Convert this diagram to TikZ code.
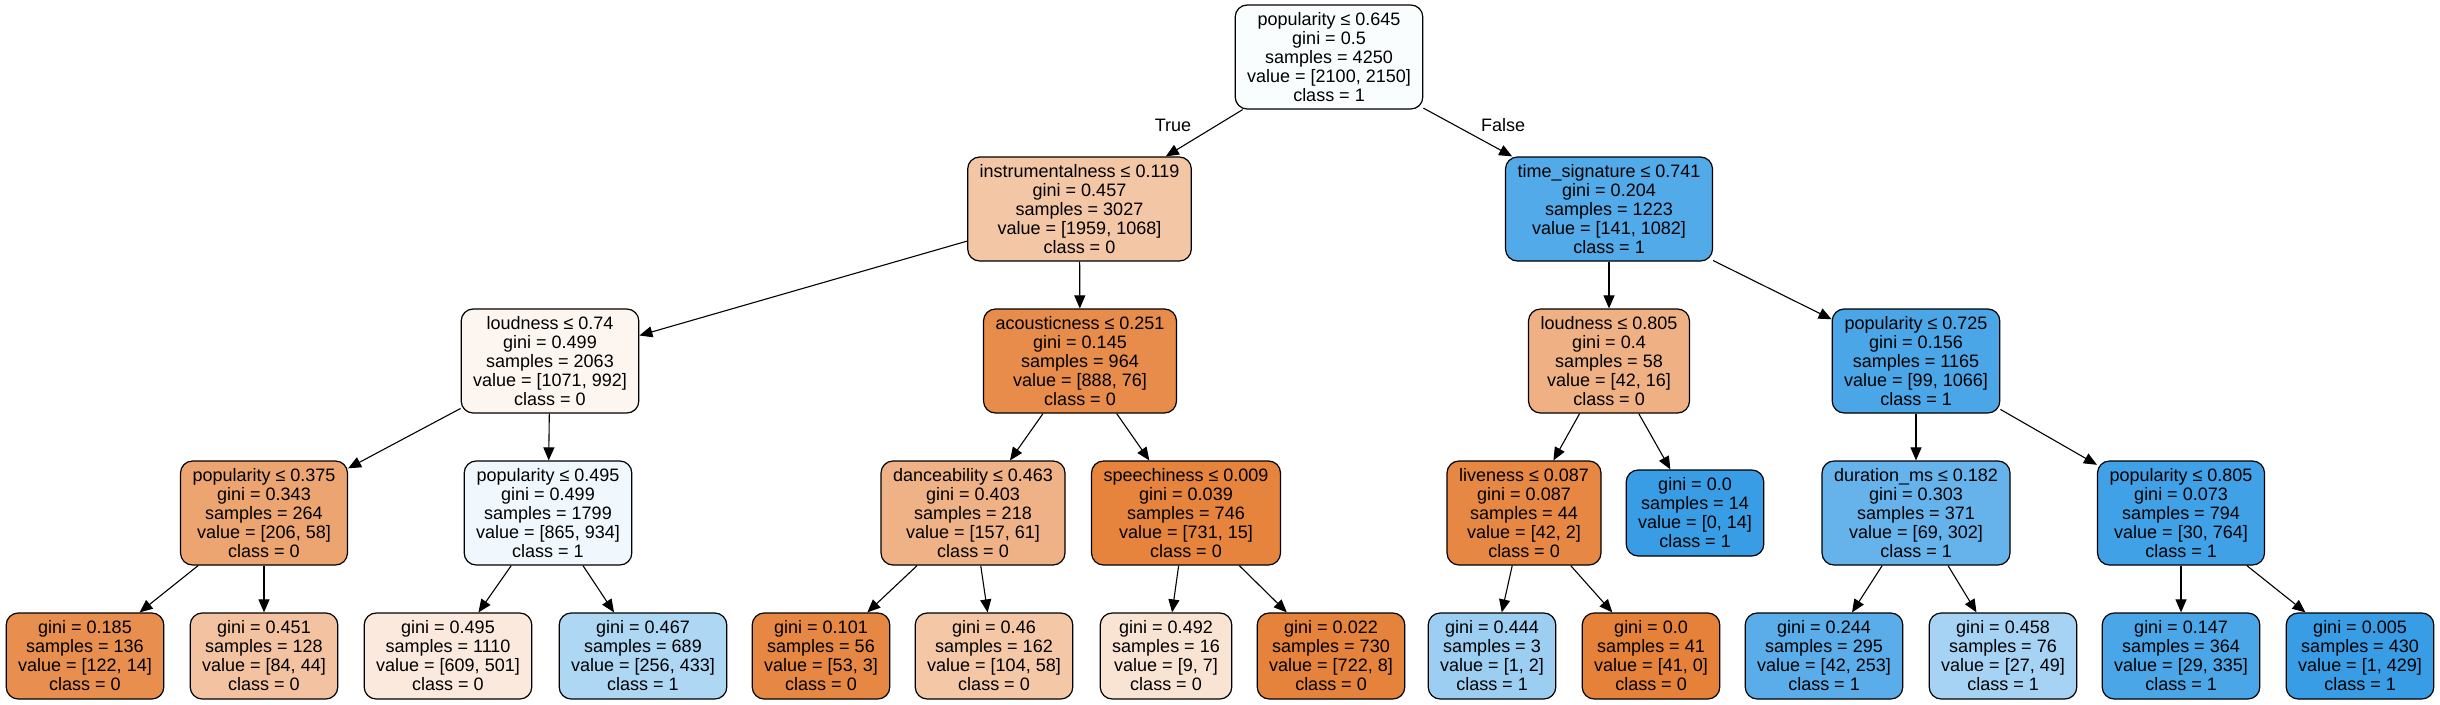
\documentclass[tikz,border=0pt]{standalone}
\usepackage{fontspec}
\setmainfont{Liberation Sans}
\usetikzlibrary{arrows.meta}
\definecolor{orng}{RGB}{229,129,57}
\definecolor{blu}{RGB}{57,157,229}
\begin{document}
\begin{tikzpicture}[x=1pt,y=-1pt,
  box/.style={draw=black, line width=1.2pt, rounded corners=12pt, align=center,
    font=\fontsize{18}{19}\selectfont, inner xsep=12pt, inner ysep=6pt},
  split/.style={box, minimum height=104pt},
  leaf/.style={box, minimum height=86pt},
  edge/.style={-{Triangle[length=13pt,width=11pt]}, line width=1.1pt},
  lbl/.style={font=\fontsize{18}{19}\selectfont}]
\useasboundingbox[fill=white] (0,0) rectangle (2440,704);
% row 0
\node[split, fill=blu!2.3!white] (n0) at (1329,57) {popularity ≤ 0.645\\gini = 0.5\\samples = 4250\\value = [2100, 2150]\\class = 1};
% row 1
\node[split, fill=orng!45.5!white] (n1) at (1079.5,209) {instrumentalness ≤ 0.119\\gini = 0.457\\samples = 3027\\value = [1959, 1068]\\class = 0};
\node[split, fill=blu!87!white] (n16) at (1609,209) {time\_signature ≤ 0.741\\gini = 0.204\\samples = 1223\\value = [141, 1082]\\class = 1};
% row 2
\node[split, fill=orng!7.4!white] (n2) at (550,361) {loudness ≤ 0.74\\gini = 0.499\\samples = 2063\\value = [1071, 992]\\class = 0};
\node[split, fill=orng!91.4!white] (n9) at (1080,361) {acousticness ≤ 0.251\\gini = 0.145\\samples = 964\\value = [888, 76]\\class = 0};
\node[split, fill=orng!61.9!white] (n17) at (1609,361) {loudness ≤ 0.805\\gini = 0.4\\samples = 58\\value = [42, 16]\\class = 0};
\node[split, fill=blu!90.7!white] (n22) at (1916,361) {popularity ≤ 0.725\\gini = 0.156\\samples = 1165\\value = [99, 1066]\\class = 1};
% row 3
\node[split, fill=orng!71.8!white] (n3) at (264,513) {popularity ≤ 0.375\\gini = 0.343\\samples = 264\\value = [206, 58]\\class = 0};
\node[split, fill=blu!7.4!white] (n6) at (548,513) {popularity ≤ 0.495\\gini = 0.499\\samples = 1799\\value = [865, 934]\\class = 1};
\node[split, fill=orng!61.1!white] (n10) at (973,513) {danceability ≤ 0.463\\gini = 0.403\\samples = 218\\value = [157, 61]\\class = 0};
\node[split, fill=orng!98!white] (n13) at (1186,513) {speechiness ≤ 0.009\\gini = 0.039\\samples = 746\\value = [731, 15]\\class = 0};
\node[split, fill=orng!95.2!white] (n18) at (1524,513) {liveness ≤ 0.087\\gini = 0.087\\samples = 44\\value = [42, 2]\\class = 0};
\node[leaf, fill=blu!100!white] (n21) at (1695,513) {gini = 0.0\\samples = 14\\value = [0, 14]\\class = 1};
\node[split, fill=blu!77.2!white] (n23) at (1916,513) {duration\_ms ≤ 0.182\\gini = 0.303\\samples = 371\\value = [69, 302]\\class = 1};
\node[split, fill=blu!96.1!white] (n26) at (2181,513) {popularity ≤ 0.805\\gini = 0.073\\samples = 794\\value = [30, 764]\\class = 1};
% row 4
\node[leaf, fill=orng!88.5!white] (n4) at (85,656) {gini = 0.185\\samples = 136\\value = [122, 14]\\class = 0};
\node[leaf, fill=orng!47.6!white] (n5) at (264,656) {gini = 0.451\\samples = 128\\value = [84, 44]\\class = 0};
\node[leaf, fill=orng!17.7!white] (n7) at (448,656) {gini = 0.495\\samples = 1110\\value = [609, 501]\\class = 0};
\node[leaf, fill=blu!40.9!white] (n8) at (643,656) {gini = 0.467\\samples = 689\\value = [256, 433]\\class = 1};
\node[leaf, fill=orng!94.3!white] (n11) at (821,656) {gini = 0.101\\samples = 56\\value = [53, 3]\\class = 0};
\node[leaf, fill=orng!44.2!white] (n12) at (994,656) {gini = 0.46\\samples = 162\\value = [104, 58]\\class = 0};
\node[leaf, fill=orng!22.2!white] (n14) at (1166,656) {gini = 0.492\\samples = 16\\value = [9, 7]\\class = 0};
\node[leaf, fill=orng!98.9!white] (n15) at (1331,656) {gini = 0.022\\samples = 730\\value = [722, 8]\\class = 0};
\node[leaf, fill=blu!50!white] (n19) at (1492,656) {gini = 0.444\\samples = 3\\value = [1, 2]\\class = 1};
\node[leaf, fill=orng!100!white] (n20) at (1651,656) {gini = 0.0\\samples = 41\\value = [41, 0]\\class = 0};
\node[leaf, fill=blu!83.4!white] (n24) at (1824,656) {gini = 0.244\\samples = 295\\value = [42, 253]\\class = 1};
\node[leaf, fill=blu!44.9!white] (n25) at (2003,656) {gini = 0.458\\samples = 76\\value = [27, 49]\\class = 1};
\node[leaf, fill=blu!91.3!white] (n27) at (2181,656) {gini = 0.147\\samples = 364\\value = [29, 335]\\class = 1};
\node[leaf, fill=blu!99.8!white] (n28) at (2360,656) {gini = 0.005\\samples = 430\\value = [1, 429]\\class = 1};
% edges
\draw[edge] (n0) -- (n1);
\draw[edge] (n0) -- (n16);
\draw[edge] (n1) -- (n2);
\draw[edge] (n1) -- (n9);
\draw[edge] (n16) -- (n17);
\draw[edge] (n16) -- (n22);
\draw[edge] (n2) -- (n3);
\draw[edge] (n2) -- (n6);
\draw[edge] (n9) -- (n10);
\draw[edge] (n9) -- (n13);
\draw[edge] (n17) -- (n18);
\draw[edge] (n17) -- (n21);
\draw[edge] (n22) -- (n23);
\draw[edge] (n22) -- (n26);
\draw[edge] (n3) -- (n4);
\draw[edge] (n3) -- (n5);
\draw[edge] (n6) -- (n7);
\draw[edge] (n6) -- (n8);
\draw[edge] (n10) -- (n11);
\draw[edge] (n10) -- (n12);
\draw[edge] (n13) -- (n14);
\draw[edge] (n13) -- (n15);
\draw[edge] (n18) -- (n19);
\draw[edge] (n18) -- (n20);
\draw[edge] (n23) -- (n24);
\draw[edge] (n23) -- (n25);
\draw[edge] (n26) -- (n27);
\draw[edge] (n26) -- (n28);
% edge labels
\node[lbl] (tl) at (1173,125) {True};
\node[lbl] (fl) at (1503,125) {False};
\end{tikzpicture}
\end{document}
